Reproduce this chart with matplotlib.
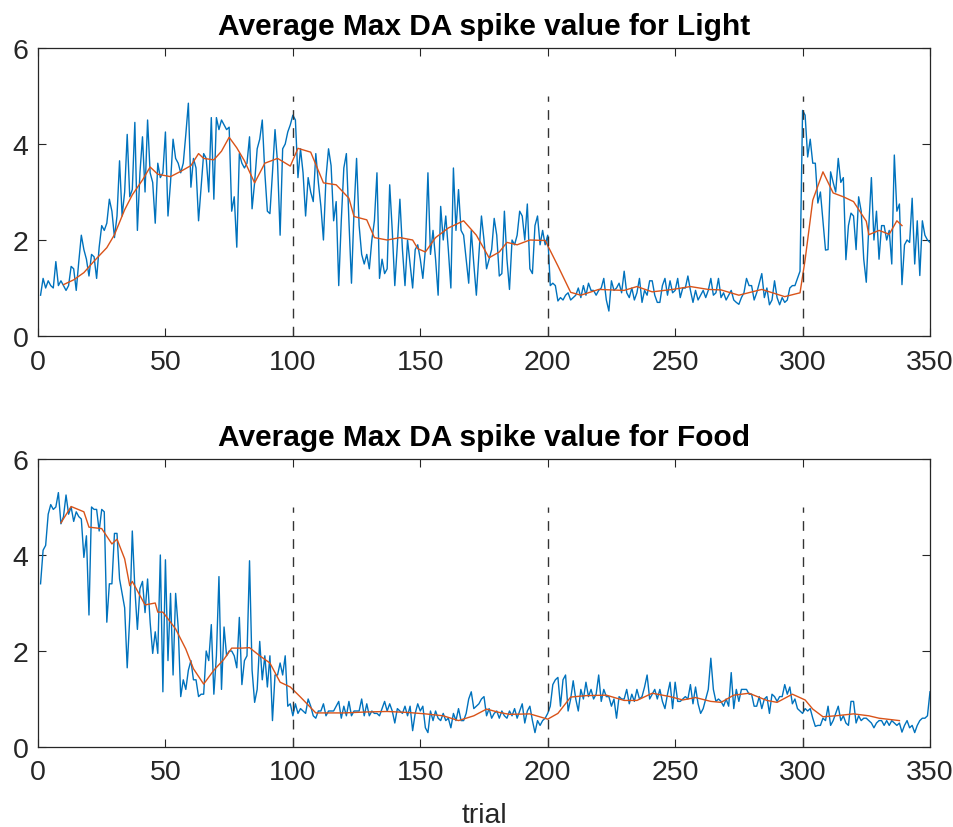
import numpy as np
import matplotlib
matplotlib.use("Agg")
import matplotlib.pyplot as plt

plt.rcParams['font.family'] = ['Liberation Sans', 'DejaVu Sans']

# valores por ensayo (1..350) para la luz
luz = [
    0.85, 1.20, 1.00, 1.15, 1.05, 1.00, 1.55, 1.05, 1.15, 1.05,
    0.95, 1.05, 1.45, 1.40, 0.95, 1.55, 2.10, 1.80, 1.60, 1.25,
    1.70, 1.65, 1.20, 1.85, 2.30, 2.20, 2.35, 2.85, 2.60, 2.05,
    2.50, 3.65, 2.50, 3.00, 4.20, 2.90, 3.05, 4.45, 2.20, 3.40,
    4.15, 3.00, 4.50, 3.40, 3.20, 2.35, 3.60, 3.30, 3.40, 4.25,
    2.50, 3.20, 4.10, 3.70, 3.60, 3.40, 3.60, 4.20, 4.85, 3.10,
    3.70, 3.50, 2.40, 3.10, 3.80, 3.70, 3.00, 4.55, 2.85, 4.55,
    4.30, 4.50, 4.40, 4.30, 4.35, 2.60, 2.90, 1.85, 3.80, 3.60,
    3.50, 3.60, 4.15, 2.65, 3.20, 3.90, 4.10, 4.50, 3.40, 2.60,
    2.55, 3.40, 4.30, 3.60, 2.10, 3.90, 4.00, 4.25, 4.40, 4.60,
    4.50, 3.30, 3.90, 3.40, 2.50, 3.30, 3.00, 2.80, 3.80, 3.20,
    2.70, 2.00, 3.30, 3.90, 3.55, 2.40, 2.80, 1.05, 2.40, 3.50,
    3.80, 2.40, 1.10, 2.60, 3.70, 2.30, 1.70, 1.50, 1.70, 1.40,
    2.00, 2.40, 3.40, 1.20, 1.60, 1.30, 1.40, 3.15, 2.20, 1.05,
    1.90, 2.85, 1.80, 1.05, 2.00, 1.50, 1.00, 1.80, 1.90, 1.60,
    1.20, 1.80, 3.40, 1.70, 2.20, 1.60, 0.85, 2.70, 2.00, 2.50,
    1.80, 1.00, 3.50, 2.20, 3.05, 2.20, 2.10, 1.60, 1.10, 2.20,
    1.50, 0.85, 1.70, 2.50, 2.00, 1.40, 1.60, 1.80, 2.45, 2.10,
    1.25, 1.30, 2.60, 1.60, 0.97, 2.00, 1.90, 2.10, 2.60, 2.50,
    2.00, 2.75, 1.40, 1.30, 2.30, 2.50, 1.90, 2.20, 1.90, 2.10,
    1.05, 1.10, 1.05, 0.73, 0.80, 0.75, 0.85, 0.90, 0.75, 0.80,
    0.85, 1.00, 0.80, 1.05, 0.85, 1.10, 0.95, 0.95, 0.85, 0.95,
    1.00, 1.20, 0.75, 0.52, 1.15, 0.95, 1.00, 1.10, 0.90, 1.35,
    0.90, 0.80, 1.00, 0.75, 0.90, 1.20, 0.70, 0.95, 0.85, 1.15,
    1.15, 0.85, 0.70, 0.70, 1.05, 1.20, 0.85, 1.15, 0.90, 0.95,
    1.20, 0.80, 1.00, 1.00, 1.25, 0.95, 0.70, 0.95, 0.75, 0.85,
    0.95, 0.80, 0.95, 1.20, 0.85, 0.90, 1.20, 0.80, 0.90, 0.75,
    0.85, 0.95, 0.75, 0.70, 0.66, 0.80, 0.90, 1.20, 1.05, 1.05,
    0.75, 0.90, 1.10, 1.30, 0.80, 1.00, 0.65, 0.75, 1.15, 0.80,
    0.65, 0.80, 0.70, 0.75, 1.00, 1.05, 1.05, 1.20, 1.35, 4.70,
    4.60, 3.73, 4.10, 3.60, 3.60, 2.77, 3.00, 2.40, 1.79, 1.80,
    3.42, 3.20, 3.00, 3.70, 3.20, 3.30, 1.59, 2.30, 2.56, 2.50,
    1.80, 2.90, 2.60, 1.60, 1.12, 2.30, 3.30, 2.00, 2.60, 1.60,
    2.30, 2.30, 2.00, 2.20, 1.50, 3.77, 2.60, 2.75, 1.07, 1.90,
    2.00, 1.95, 2.87, 1.50, 2.40, 1.26, 2.40, 2.10, 2.00, 1.95,
]

# valores por ensayo (1..350) para la comida
comida = [
    3.40, 4.10, 4.20, 4.85, 5.05, 4.95, 5.00, 5.30, 4.65, 4.80,
    5.25, 4.85, 5.00, 4.70, 4.90, 4.80, 4.75, 3.95, 4.40, 2.75,
    5.00, 4.95, 4.95, 4.50, 4.95, 4.90, 2.60, 3.40, 3.40, 4.45,
    4.45, 3.50, 3.20, 2.90, 1.65, 2.70, 4.50, 3.30, 2.45, 3.30,
    3.45, 2.80, 3.50, 2.60, 1.95, 2.40, 1.95, 4.00, 1.15, 3.90,
    1.80, 3.20, 1.50, 3.20, 2.50, 1.05, 1.40, 1.20, 1.60, 1.80,
    1.40, 1.40, 1.05, 1.10, 1.10, 2.00, 1.80, 2.55, 1.10, 1.90,
    3.55, 1.20, 2.50, 1.90, 2.00, 2.00, 1.90, 1.65, 2.70, 1.30,
    1.80, 1.90, 3.88, 1.60, 0.93, 1.20, 2.20, 1.40, 1.90, 1.25,
    1.90, 0.55, 1.50, 1.50, 1.75, 1.50, 1.90, 0.85, 0.90, 0.65,
    0.90, 0.70, 0.80, 0.75, 0.70, 1.00, 0.85, 0.65, 0.60, 0.75,
    0.75, 0.90, 0.65, 0.75, 0.75, 0.75, 0.85, 0.95, 0.60, 0.85,
    0.65, 0.95, 0.65, 0.75, 0.75, 0.75, 1.00, 0.65, 0.90, 0.65,
    0.75, 0.70, 0.70, 0.65, 0.80, 0.95, 0.75, 0.90, 0.75, 0.50,
    0.80, 0.75, 0.70, 0.85, 0.65, 0.85, 0.34, 0.70, 0.90, 0.75,
    0.85, 0.40, 0.30, 0.75, 0.55, 0.75, 0.60, 0.55, 0.70, 0.55,
    0.60, 0.40, 0.70, 0.55, 0.80, 0.55, 0.55, 0.70, 1.00, 1.15,
    0.80, 0.85, 0.90, 1.00, 1.05, 0.65, 0.80, 0.60, 0.70, 0.75,
    0.60, 0.75, 0.65, 0.60, 0.75, 0.65, 0.80, 0.60, 0.75, 0.90,
    0.50, 0.75, 0.85, 0.55, 0.30, 0.55, 0.45, 0.55, 0.60, 0.70,
    0.85, 1.30, 1.40, 1.45, 0.85, 1.40, 1.50, 0.75, 1.00, 1.38,
    1.00, 0.75, 1.20, 1.00, 1.35, 1.05, 1.20, 1.00, 1.10, 1.50,
    0.95, 1.20, 1.05, 1.05, 0.85, 1.00, 0.60, 1.05, 1.00, 1.00,
    1.20, 0.90, 1.10, 0.95, 1.20, 1.00, 1.05, 1.25, 1.50, 1.00,
    1.10, 1.20, 1.00, 1.20, 0.95, 0.80, 1.10, 1.35, 0.80, 1.35,
    0.95, 0.95, 1.00, 1.05, 1.00, 1.30, 0.90, 1.25, 0.90, 0.70,
    0.80, 1.00, 1.20, 1.85, 1.20, 0.95, 1.00, 0.95, 0.85, 1.00,
    0.85, 1.55, 0.80, 1.20, 0.95, 1.20, 1.20, 1.20, 1.10, 1.10,
    0.85, 0.85, 1.05, 0.80, 1.00, 1.05, 0.70, 1.10, 1.05, 0.95,
    1.05, 1.05, 1.30, 1.10, 1.25, 0.90, 1.00, 0.80, 0.75, 0.70,
    0.80, 0.75, 0.80, 0.60, 0.43, 0.45, 0.45, 0.60, 0.55, 0.85,
    0.45, 0.55, 0.70, 0.85, 0.55, 0.65, 0.50, 0.45, 0.95, 0.95,
    0.50, 0.65, 0.55, 0.60, 0.60, 0.55, 0.50, 0.40, 0.50, 0.55,
    0.55, 0.45, 0.55, 0.45, 0.55, 0.50, 0.45, 0.50, 0.31, 0.45,
    0.55, 0.40, 0.45, 0.30, 0.45, 0.55, 0.60, 0.60, 0.65, 1.15,
]

# tendencia suavizada (ensayo, valor)
luz_tend_x = [10, 14, 18, 22, 27, 30, 34, 37, 41, 44, 47, 52, 56, 60, 63, 65, 69, 72, 75, 78,
              81, 85, 89, 94, 99, 102, 107, 112, 117, 122, 124, 129, 132, 137, 142, 147, 149, 152, 156, 161,
              167, 172, 177, 181, 184, 188, 193, 199, 204, 209, 213, 220, 230, 235, 241, 249, 256, 263, 268, 275,
              284, 293, 299, 301, 304, 308, 312, 316, 320, 325, 326, 330, 334, 337, 339]
luz_tend_y = [1.07, 1.17, 1.32, 1.56, 1.84, 2.11, 2.63, 2.94, 3.25, 3.52, 3.37, 3.32, 3.43, 3.55, 3.80, 3.70, 3.67, 3.85, 4.14, 3.92,
              3.65, 3.19, 3.60, 3.70, 3.54, 3.91, 3.83, 3.19, 3.15, 2.87, 2.49, 2.42, 2.05, 2.00, 2.05, 2.00, 1.82, 1.75, 2.05, 2.25,
              2.40, 2.10, 1.63, 1.75, 1.95, 1.90, 2.00, 1.99, 1.46, 0.91, 0.85, 0.97, 0.95, 1.03, 0.92, 0.97, 1.03, 0.97, 0.96, 0.85,
              0.97, 0.82, 0.90, 1.59, 2.83, 3.42, 2.98, 2.90, 2.80, 2.39, 2.11, 2.20, 2.12, 2.40, 2.30]

comida_tend_x = [9, 13, 18, 20, 25, 29, 31, 34, 36, 37, 42, 46, 47, 49, 54, 58, 61, 65, 69, 73,
                 76, 80, 83, 87, 91, 95, 99, 103, 109, 120, 129, 137, 145, 152, 159, 165, 171, 176, 181, 185,
                 193, 200, 204, 209, 215, 223, 230, 235, 241, 248, 253, 258, 264, 268, 273, 279, 286, 290, 296, 301,
                 304, 308, 313, 320, 326, 330, 338]
comida_tend_y = [4.67, 5.01, 4.90, 4.58, 4.55, 4.23, 4.33, 3.92, 3.36, 3.45, 2.96, 3.00, 2.81, 2.81, 2.46, 2.04, 1.63, 1.31, 1.60, 1.83,
                 2.06, 2.06, 2.07, 1.90, 1.75, 1.35, 1.25, 1.04, 0.71, 0.71, 0.73, 0.74, 0.72, 0.69, 0.65, 0.55, 0.65, 0.79, 0.72, 0.68,
                 0.69, 0.58, 0.70, 1.04, 1.07, 1.08, 0.97, 0.97, 1.12, 1.05, 0.98, 1.03, 0.95, 0.93, 1.08, 1.12, 0.97, 0.93, 1.10, 0.98,
                 0.79, 0.63, 0.65, 0.69, 0.65, 0.60, 0.55]

cambios = [100, 200, 300]
titulos = ['Average Max DA spike value for Light', 'Average Max DA spike value for Food']

azul = '#0072BD'
naranja = '#D95319'
gris = '#262626'

fig = plt.figure(figsize=(9.54, 8.28), dpi=100)
ax1 = fig.add_axes([38/954, 1 - 337/828, 892/954, 288/828])
ax2 = fig.add_axes([38/954, 1 - 748/828, 892/954, 288/828])

ensayos = np.arange(1, len(luz) + 1)
series = [(luz, luz_tend_x, luz_tend_y), (comida, comida_tend_x, comida_tend_y)]

for ax, (datos, tx, ty), titulo in zip([ax1, ax2], series, titulos):
    ax.plot(ensayos, datos, color=azul, lw=1.0)
    ax.plot(tx, ty, color=naranja, lw=1.0)
    for c in cambios:
        ax.plot([c, c], [0, 5], color='#333333', ls=(0, (7, 6)), lw=1.0)
    ax.set_xlim(0, 350)
    ax.set_ylim(0, 6)
    ax.set_xticks(range(0, 351, 50))
    ax.set_yticks([0, 2, 4, 6])
    ax.tick_params(direction='in', top=True, right=True, length=6, width=0.8,
                   labelsize=20.5, colors=gris)
    ax.tick_params(axis='x', pad=9)
    ax.tick_params(axis='y', pad=7)
    for s in ax.spines.values():
        s.set_color(gris)
        s.set_linewidth(0.9)
    ax.set_title(titulo, fontsize=21.5, fontweight='bold', color='black', pad=10)

ax2.set_xlabel('trial', fontsize=20.5, color=gris, labelpad=12)

fig.savefig('out.png', dpi=100)
